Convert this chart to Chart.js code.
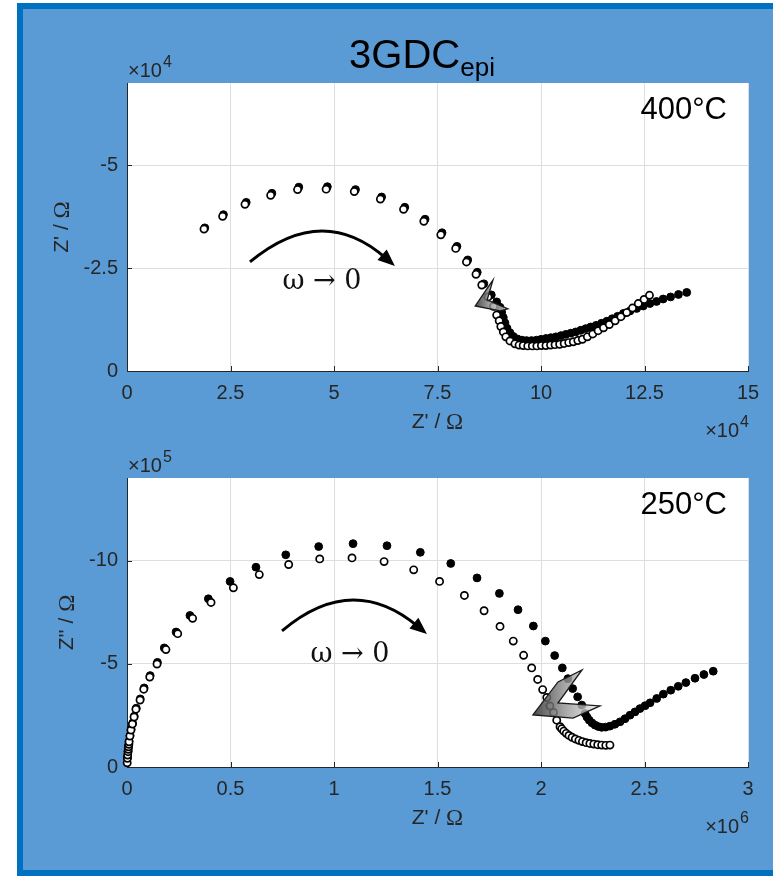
<!DOCTYPE html>
<html>
<head>
<meta charset="utf-8">
<script src="https://cdn.jsdelivr.net/npm/chart.js"></script>
<style>
  html, body { margin: 0; padding: 0; background: #fff; width: 773px; height: 877px; overflow: hidden; }
  #frame { position: absolute; left: 17px; top: 3px; width: 780px; height: 861px; background: #5b9bd5; border: 6px solid #0070c0; }
  canvas { position: absolute; left: 0; }
  #c400 { top: 0; }
  #c250 { top: 440px; }
</style>
</head>
<body>
<div id="frame"></div>
<canvas id="c400" width="773" height="440"></canvas>
<canvas id="c250" width="773" height="437"></canvas>
<script>
// 400°C : x in 1e4 Ohm, y = -Z'' in 1e4 Ohm
const xTicks400 = [0, 2.5, 5, 7.5, 10, 12.5, 15];
const xLabels400 = ['0', '2.5', '5', '7.5', '10', '12.5', '15'];
const yTicks400 = [0, 2.5, 5];
const yLabels400 = ['0', '-2.5', '-5'];

const open400 = [
  [1.86, 3.45], [2.31, 3.76], [2.85, 4.05], [3.47, 4.27], [4.12, 4.41], [4.81, 4.42],
  [5.49, 4.36], [6.12, 4.18], [6.68, 3.93], [7.17, 3.64], [7.58, 3.31], [7.94, 2.98],
  [8.20, 2.65], [8.43, 2.35], [8.57, 2.09], [8.72, 1.80], [8.85, 1.57], [8.93, 1.36],
  [8.99, 1.22], [9.03, 1.08], [9.09, 0.95], [9.15, 0.83], [9.25, 0.73], [9.37, 0.66],
  [9.47, 0.63], [9.57, 0.62], [9.68, 0.61], [9.79, 0.61], [9.90, 0.61], [10.01, 0.62],
  [10.12, 0.62], [10.23, 0.63], [10.34, 0.64], [10.45, 0.65], [10.56, 0.67], [10.67, 0.69],
  [10.78, 0.71], [10.89, 0.74], [11.00, 0.77], [11.12, 0.83], [11.25, 0.90], [11.38, 0.98],
  [11.51, 1.05], [11.65, 1.13], [11.79, 1.22], [11.93, 1.32], [12.07, 1.42], [12.21, 1.53],
  [12.35, 1.64], [12.49, 1.74], [12.62, 1.84]
];
const filled400 = [
  [1.88, 3.48], [2.33, 3.80], [2.88, 4.10], [3.50, 4.32], [4.15, 4.47], [4.84, 4.48],
  [5.52, 4.41], [6.15, 4.23], [6.71, 3.98], [7.20, 3.69], [7.61, 3.36], [7.97, 3.03],
  [8.23, 2.70], [8.46, 2.40], [8.62, 2.12], [8.80, 1.85], [8.93, 1.68], [9.01, 1.55],
  [9.05, 1.43], [9.09, 1.30], [9.13, 1.17], [9.18, 1.04], [9.25, 0.93], [9.33, 0.84],
  [9.43, 0.78], [9.54, 0.75], [9.65, 0.74], [9.77, 0.74], [9.89, 0.75], [10.00, 0.77],
  [10.12, 0.79], [10.24, 0.81], [10.36, 0.83], [10.48, 0.86], [10.60, 0.89], [10.72, 0.92],
  [10.84, 0.95], [10.96, 0.99], [11.08, 1.03], [11.20, 1.07], [11.33, 1.11], [11.46, 1.16],
  [11.59, 1.21], [11.72, 1.27], [11.85, 1.33], [11.99, 1.40], [12.15, 1.46], [12.31, 1.52],
  [12.47, 1.58], [12.63, 1.64], [12.79, 1.69], [12.95, 1.75], [13.13, 1.80], [13.32, 1.86],
  [13.52, 1.91]
];

// 250°C : x in 1e6 Ohm, y = -Z'' in 1e5 Ohm
const xTicks250 = [0, 0.5, 1, 1.5, 2, 2.5, 3];
const xLabels250 = ['0', '0.5', '1', '1.5', '2', '2.5', '3'];
const yTicks250 = [0, 5, 10];
const yLabels250 = ['0', '-5', '-10'];

const open250 = [
  [0.001, 0.20], [0.002, 0.42], [0.003, 0.58], [0.005, 0.74], [0.006, 0.86], [0.007, 0.98],
  [0.009, 1.10], [0.010, 1.22], [0.014, 1.50], [0.019, 1.79], [0.026, 2.08], [0.034, 2.42],
  [0.043, 2.80], [0.063, 3.24], [0.081, 3.77], [0.110, 4.36], [0.145, 4.99], [0.188, 5.69],
  [0.245, 6.46], [0.317, 7.20], [0.406, 7.97], [0.514, 8.68], [0.639, 9.32], [0.781, 9.81],
  [0.931, 10.08], [1.087, 10.13], [1.242, 9.95], [1.385, 9.55], [1.510, 8.99], [1.630, 8.31],
  [1.725, 7.57], [1.802, 6.81], [1.866, 6.10], [1.916, 5.41], [1.955, 4.80], [1.984, 4.24],
  [2.008, 3.75], [2.028, 3.37], [2.043, 2.96], [2.060, 2.64], [2.076, 2.27], [2.092, 1.95],
  [2.100, 1.85], [2.110, 1.74], [2.122, 1.63], [2.135, 1.53], [2.150, 1.44], [2.166, 1.36],
  [2.183, 1.29], [2.200, 1.23], [2.218, 1.18], [2.236, 1.14], [2.255, 1.11], [2.274, 1.08],
  [2.293, 1.06], [2.313, 1.05], [2.333, 1.06]
];
const filled250 = [
  [0.002, 0.44], [0.005, 0.76], [0.007, 1.00], [0.010, 1.25], [0.015, 1.53], [0.020, 1.83],
  [0.027, 2.12], [0.035, 2.46], [0.045, 2.85], [0.064, 3.30], [0.083, 3.83], [0.112, 4.43],
  [0.147, 5.07], [0.180, 5.77], [0.237, 6.54], [0.304, 7.34], [0.393, 8.15], [0.498, 8.99],
  [0.623, 9.68], [0.767, 10.28], [0.926, 10.68], [1.092, 10.82], [1.256, 10.72], [1.417, 10.40],
  [1.564, 9.86], [1.691, 9.16], [1.799, 8.41], [1.889, 7.62], [1.963, 6.83], [2.021, 6.10],
  [2.066, 5.40], [2.103, 4.80], [2.130, 4.28], [2.153, 3.80], [2.177, 3.40], [2.197, 3.00],
  [2.213, 2.59], [2.222, 2.42], [2.233, 2.27], [2.246, 2.14], [2.261, 2.03], [2.277, 1.96],
  [2.293, 1.92], [2.312, 1.93], [2.333, 1.98], [2.357, 2.07], [2.382, 2.19], [2.406, 2.34],
  [2.430, 2.51], [2.454, 2.67], [2.478, 2.83], [2.503, 2.97], [2.527, 3.11], [2.559, 3.32],
  [2.591, 3.53], [2.627, 3.72], [2.663, 3.91], [2.700, 4.09], [2.744, 4.30], [2.787, 4.48],
  [2.832, 4.64]
];

const INK = '#262626';
const SANS = '"Liberation Sans", Arial, sans-serif';
const SERIF = '"Liberation Serif", "DejaVu Serif", serif';
const MATH = '"DejaVu Serif", serif';

function toPts(arr) {
  return arr.map(p => ({ x: p[0], y: p[1] }));
}

// texto con superindice
function drawSup(ctx, x, y, base, sup, size, align) {
  const ss = Math.round(size * 0.78);
  ctx.font = size + 'px ' + SANS;
  const w1 = ctx.measureText(base).width;
  ctx.font = ss + 'px ' + SANS;
  const w2 = ctx.measureText(sup).width;
  let x0 = x;
  if (align === 'right') x0 = x - w1 - w2;
  ctx.textAlign = 'left';
  ctx.textBaseline = 'alphabetic';
  ctx.font = size + 'px ' + SANS;
  ctx.fillText(base, x0, y);
  ctx.font = ss + 'px ' + SANS;
  ctx.fillText(sup, x0 + w1 + 1, y - size * 0.5);
}

function drawZLabel(ctx, x, y, zText) {
  ctx.font = '21px ' + SANS;
  const a = zText + ' / ';
  const w1 = ctx.measureText(a).width;
  ctx.font = '23px ' + SERIF;
  const w2 = ctx.measureText('Ω').width;
  const x0 = x - (w1 + w2) / 2;
  ctx.textAlign = 'left';
  ctx.textBaseline = 'middle';
  ctx.font = '21px ' + SANS;
  ctx.fillText(a, x0, y);
  ctx.font = '23px ' + SERIF;
  ctx.fillText('Ω', x0 + w1, y + 1);
}

const decor = {
  id: 'decor',
  beforeDraw(chart) {
    const { ctx, chartArea: a } = chart;
    ctx.save();
    ctx.fillStyle = '#fff';
    ctx.fillRect(a.left, a.top, a.right - a.left, a.bottom - a.top);
    ctx.restore();
  },
  beforeDatasetsDraw(chart) {
    const { ctx, chartArea: a, scales } = chart;
    ctx.save();
    ctx.strokeStyle = INK;
    ctx.lineWidth = 1;
    ctx.beginPath();
    scales.x.ticks.forEach(t => {
      const px = Math.round(scales.x.getPixelForValue(t.value)) + 0.5;
      ctx.moveTo(px, a.bottom);
      ctx.lineTo(px, a.bottom - 5);
    });
    scales.y.ticks.forEach(t => {
      const py = Math.round(scales.y.getPixelForValue(t.value)) + 0.5;
      ctx.moveTo(a.left, py);
      ctx.lineTo(a.left + 5, py);
    });
    ctx.stroke();
    ctx.restore();
  },
  afterDatasetsDraw(chart, args, o) {
    const { ctx, chartArea: a, scales } = chart;
    const X = v => scales.x.getPixelForValue(v);
    const Y = v => scales.y.getPixelForValue(v);
    ctx.save();

    // flecha curva
    const s = [X(o.arc[0][0]), Y(o.arc[0][1])];
    const c = [X(o.arc[1][0]), Y(o.arc[1][1])];
    const e = [X(o.arc[2][0]), Y(o.arc[2][1])];
    let dx = e[0] - c[0], dy = e[1] - c[1];
    const len = Math.hypot(dx, dy);
    dx /= len; dy /= len;
    const head = 17, half = 7;
    ctx.strokeStyle = '#000';
    ctx.lineWidth = 3;
    ctx.beginPath();
    ctx.moveTo(s[0], s[1]);
    ctx.quadraticCurveTo(c[0], c[1], e[0] - dx * head * 0.7, e[1] - dy * head * 0.7);
    ctx.stroke();
    ctx.fillStyle = '#000';
    ctx.beginPath();
    ctx.moveTo(e[0], e[1]);
    ctx.lineTo(e[0] - dx * head - dy * half, e[1] - dy * head + dx * half);
    ctx.lineTo(e[0] - dx * head + dy * half, e[1] - dy * head - dx * half);
    ctx.closePath();
    ctx.fill();

    // texto omega
    ctx.fillStyle = '#111';
    ctx.font = '27px ' + MATH;
    ctx.textAlign = 'center';
    ctx.textBaseline = 'middle';
    ctx.fillText('ω → 0', X(o.omega[0]), Y(o.omega[1]));

    // flecha gris
    const pts = o.chevron.map(p => [X(p[0]), Y(p[1])]);
    const xs = pts.map(p => p[0]);
    const g = ctx.createLinearGradient(Math.min(...xs), 0, Math.max(...xs), 0);
    g.addColorStop(0, 'rgba(55,55,55,0.9)');
    g.addColorStop(0.5, 'rgba(150,150,150,0.8)');
    g.addColorStop(1, 'rgba(235,235,235,0.75)');
    ctx.fillStyle = g;
    ctx.strokeStyle = '#1a1a1a';
    ctx.lineWidth = 1.3;
    ctx.beginPath();
    pts.forEach((p, i) => i ? ctx.lineTo(p[0], p[1]) : ctx.moveTo(p[0], p[1]));
    ctx.closePath();
    ctx.fill();
    ctx.stroke();

    // temperatura
    ctx.fillStyle = '#000';
    ctx.font = '31px ' + SANS;
    ctx.textAlign = 'right';
    ctx.textBaseline = 'middle';
    ctx.fillText(o.temp, a.right - 21, a.top + 27);

    // multiplicadores
    ctx.fillStyle = INK;
    drawSup(ctx, a.left + 1, a.top - 6, '×10', o.yExp, 20, 'left');
    drawSup(ctx, a.right, a.bottom + 66, '×10', o.xExp, 20, 'right');

    // titulos de ejes
    drawZLabel(ctx, (a.left + a.right) / 2, a.bottom + 51, "Z'");
    ctx.save();
    ctx.translate(o.yTitleX, (a.top + a.bottom) / 2);
    ctx.rotate(-Math.PI / 2);
    drawZLabel(ctx, 0, 0, o.yTitle);
    ctx.restore();

    // titulo general
    if (o.title) {
      ctx.fillStyle = '#000';
      ctx.font = '40px ' + SANS;
      const w1 = ctx.measureText('3GDC').width;
      ctx.font = '26px ' + SANS;
      const w2 = ctx.measureText('epi').width;
      const x0 = 422 - (w1 + w2) / 2;
      ctx.textAlign = 'left';
      ctx.textBaseline = 'alphabetic';
      ctx.font = '40px ' + SANS;
      ctx.fillText('3GDC', x0, 68);
      ctx.font = '26px ' + SANS;
      ctx.fillText('epi', x0 + w1, 76);
    }
    ctx.restore();
  }
};

function makeChart(id, openData, filledData, xr, yr, xTicks, xLabels, yTicks, yLabels, padTop, xHeight, decorOpts) {
  return new Chart(document.getElementById(id), {
    type: 'scatter',
    data: {
      datasets: [
        {
          data: toPts(openData),
          order: 0,
          pointRadius: 3.6,
          pointBorderWidth: 1.7,
          pointBackgroundColor: '#fff',
          pointBorderColor: '#000',
          clip: false
        },
        {
          data: toPts(filledData),
          order: 1,
          pointRadius: 3.9,
          pointBorderWidth: 1,
          pointBackgroundColor: '#000',
          pointBorderColor: '#000',
          clip: false
        }
      ]
    },
    options: {
      responsive: false,
      animation: false,
      devicePixelRatio: 1,
      layout: { padding: { top: padTop, right: 25, left: 0, bottom: 0 } },
      plugins: {
        legend: { display: false },
        tooltip: { enabled: false },
        decor: decorOpts
      },
      scales: {
        x: {
          type: 'linear',
          min: xr[0],
          max: xr[1],
          afterBuildTicks: s => { s.ticks = xTicks.map(v => ({ value: v })); },
          afterFit: s => { s.height = xHeight; },
          grid: { color: '#dedede', drawTicks: false },
          border: { display: true, color: INK, width: 1 },
          ticks: {
            padding: 10,
            color: INK,
            font: { family: SANS, size: 20 },
            callback: (v, i) => xLabels[i]
          }
        },
        y: {
          type: 'linear',
          min: yr[0],
          max: yr[1],
          afterBuildTicks: s => { s.ticks = yTicks.map(v => ({ value: v })); },
          afterFit: s => { s.width = 127; },
          grid: { color: '#dedede', drawTicks: false },
          border: { display: true, color: INK, width: 1 },
          ticks: {
            padding: 9,
            color: INK,
            font: { family: SANS, size: 20 },
            callback: (v, i) => yLabels[i]
          }
        }
      }
    },
    plugins: [decor]
  });
}

makeChart('c400', open400, filled400, [0, 15], [0, 7],
  xTicks400, xLabels400, yTicks400, yLabels400, 83, 69, {
    temp: '400°C', xExp: '4', yExp: '4', yTitle: "Z'", yTitleX: 62, title: true,
    arc: [[2.97, 2.65], [4.71, 4.11], [6.47, 2.55]],
    omega: [4.71, 2.16],
    chevron: [[8.41, 1.58], [8.72, 2.04], [8.84, 2.21], [8.70, 1.73], [9.20, 1.51], [9.01, 1.46]]
  });

makeChart('c250', open250, filled250, [0, 3], [0, 14],
  xTicks250, xLabels250, yTicks250, yLabels250, 38, 110, {
    temp: '250°C', xExp: '6', yExp: '5', yTitle: "Z''", yTitleX: 67, title: false,
    arc: [[0.749, 6.59], [1.087, 9.47], [1.449, 6.44]],
    omega: [1.077, 5.43],
    chevron: [[1.961, 2.52], [2.082, 4.12], [2.198, 4.70], [2.082, 3.10], [2.285, 2.96], [2.155, 2.37]]
  });
</script>
</body>
</html>
